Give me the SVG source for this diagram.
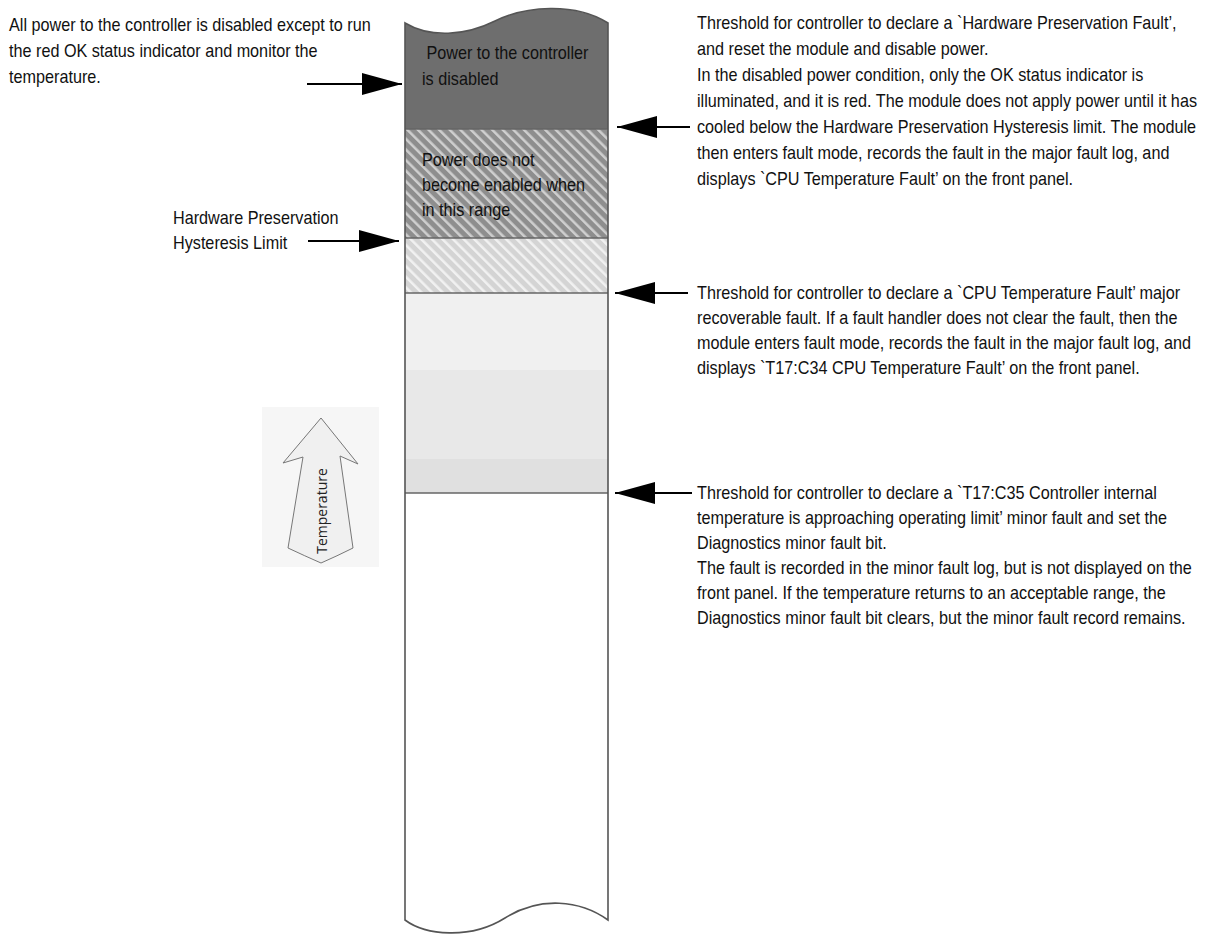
<svg xmlns="http://www.w3.org/2000/svg" width="1216" height="936" viewBox="0 0 1216 936">
<defs>
<style>
.t{font-family:"Liberation Sans Narrow","Liberation Sans",sans-serif;font-size:18px;fill:#111}
.ln{stroke:#000;stroke-width:2;fill:none}
.sep{stroke:#666;stroke-width:1.5}
</style>
<pattern id="hatchDark" patternUnits="userSpaceOnUse" width="7.5" height="7.5" patternTransform="rotate(-45)">
<rect width="7.5" height="7.5" fill="#8e8e8e"/>
<rect width="2.5" height="7.5" fill="#cfcfcf"/>
</pattern>
<pattern id="hatchLight" patternUnits="userSpaceOnUse" width="7.5" height="7.5" patternTransform="rotate(-45)">
<rect width="7.5" height="7.5" fill="#d4d4d4"/>
<rect width="2.5" height="7.5" fill="#f1f1f1"/>
</pattern>
<clipPath id="colClip">
<path d="M405,23 C430,38 465,36 495,21 C525,6 575,2 608,23 L608,920 C580,900 540,896 505,918 C470,940 425,935 405,920 Z"/>
</clipPath>
<marker id="head" markerUnits="userSpaceOnUse" markerWidth="42" markerHeight="24" refX="40" refY="12" orient="auto">
<path d="M0,1 L40,12 L0,23 Z" fill="#000"/>
</marker>
</defs>
<rect width="1216" height="936" fill="#fff"/>

<g id="temperature-indicator">
<rect x="262" y="407" width="117" height="160" fill="#f6f6f6"/>
<path d="M321,418 L358,464 L340,456 L353,548 Q337,556 321,563 Q305,556 288,548 L303,457 L283,463 Z" fill="#f0f0f0" stroke="#777" stroke-width="1"/>
<text x="0" y="0" transform="translate(327,511) rotate(-90)" text-anchor="middle" style="font-family:'Open Sans','DejaVu Sans',sans-serif;font-size:14px;fill:#222">Temperature</text>
</g>

<g id="column">
<g clip-path="url(#colClip)">
<rect x="400" y="0" width="215" height="129" fill="#6e6e6e"/>
<rect x="400" y="129" width="215" height="109" fill="url(#hatchDark)"/>
<rect x="400" y="238" width="215" height="55" fill="url(#hatchLight)"/>
<rect x="400" y="293" width="215" height="77" fill="#f0f0f0"/>
<rect x="400" y="370" width="215" height="89" fill="#e8e8e8"/>
<rect x="400" y="459" width="215" height="34" fill="#e0e0e0"/>
<rect x="400" y="493" width="215" height="443" fill="#fff"/>
</g>
<line class="sep" x1="405" y1="129" x2="608" y2="129"/>
<line class="sep" x1="405" y1="238" x2="608" y2="238"/>
<line class="sep" x1="405" y1="293" x2="608" y2="293"/>
<line class="sep" x1="405" y1="493" x2="608" y2="493"/>
<path d="M405,23 C430,38 465,36 495,21 C525,6 575,2 608,23 L608,920 C580,900 540,896 505,918 C470,940 425,935 405,920 Z" fill="none" stroke="#555" stroke-width="1.6"/>
</g>

<g id="zone-disabled" transform="translate(422,0) scale(0.9,1)">
<text class="t" x="0" y="59" xml:space="preserve"> Power to the controller</text>
<text class="t" x="0" y="85">is disabled</text>
</g>
<g id="zone-no-enable" transform="translate(422,0) scale(0.9,1)">
<text class="t" x="0" y="166">Power does not</text>
<text class="t" x="0" y="191">become enabled when</text>
<text class="t" x="0" y="216">in this range</text>
</g>

<g id="note-all-power" transform="translate(9,0) scale(0.9,1)">
<text class="t" x="0" y="31">All power to the controller is disabled except to run</text>
<text class="t" x="0" y="57">the red OK status indicator and monitor the</text>
<text class="t" x="0" y="83">temperature.</text>
</g>
<g id="note-hysteresis" transform="translate(173,0) scale(0.9,1)">
<text class="t" x="0" y="224">Hardware Preservation</text>
<text class="t" x="0" y="249">Hysteresis Limit</text>
</g>
<g id="note-hw-fault" transform="translate(697,0) scale(0.9,1)">
<text class="t" x="0" y="29">Threshold for controller to declare a `Hardware Preservation Fault’,</text>
<text class="t" x="0" y="55">and reset the module and disable power.</text>
<text class="t" x="0" y="81">In the disabled power condition, only the OK status indicator is</text>
<text class="t" x="0" y="107">illuminated, and it is red. The module does not apply power until it has</text>
<text class="t" x="0" y="133">cooled below the Hardware Preservation Hysteresis limit. The module</text>
<text class="t" x="0" y="159">then enters fault mode, records the fault in the major fault log, and</text>
<text class="t" x="0" y="185">displays `CPU Temperature Fault’ on the front panel.</text>
</g>
<g id="note-cpu-fault" transform="translate(697,0) scale(0.9,1)">
<text class="t" x="0" y="299">Threshold for controller to declare a `CPU Temperature Fault’ major</text>
<text class="t" x="0" y="324">recoverable fault. If a fault handler does not clear the fault, then the</text>
<text class="t" x="0" y="349">module enters fault mode, records the fault in the major fault log, and</text>
<text class="t" x="0" y="374">displays `T17:C34 CPU Temperature Fault’ on the front panel.</text>
</g>
<g id="note-minor-fault" transform="translate(697,0) scale(0.9,1)">
<text class="t" x="0" y="499">Threshold for controller to declare a `T17:C35 Controller internal</text>
<text class="t" x="0" y="524">temperature is approaching operating limit’ minor fault and set the</text>
<text class="t" x="0" y="549">Diagnostics minor fault bit.</text>
<text class="t" x="0" y="574">The fault is recorded in the minor fault log, but is not displayed on the</text>
<text class="t" x="0" y="599">front panel. If the temperature returns to an acceptable range, the</text>
<text class="t" x="0" y="624">Diagnostics minor fault bit clears, but the minor fault record remains.</text>
</g>

<g id="connectors">
<line class="ln" x1="307" y1="84" x2="402" y2="84" marker-end="url(#head)"/>
<line class="ln" x1="308" y1="241" x2="399" y2="241" marker-end="url(#head)"/>
<line class="ln" x1="690" y1="127" x2="617" y2="127" marker-end="url(#head)"/>
<line class="ln" x1="688" y1="293" x2="615" y2="293" marker-end="url(#head)"/>
<line class="ln" x1="692" y1="493" x2="615" y2="493" marker-end="url(#head)"/>
</g>
</svg>
